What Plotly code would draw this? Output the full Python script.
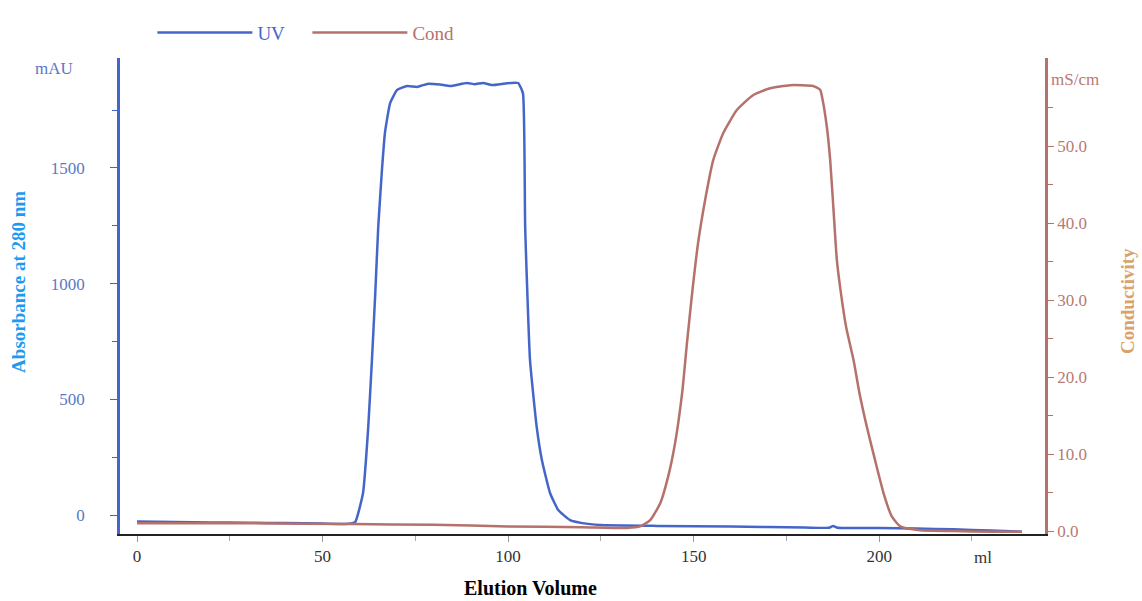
import plotly.graph_objects as go

# ---- data ----
uv_ml = [0, 10, 20, 30, 40, 50, 57, 58.8, 60.9, 62.3, 63.3, 64.2, 65.0, 66.0, 66.8, 68.2,
         70.1, 72.8, 75.5, 78.2, 81.7, 84.4, 88.9, 91.0, 93.3, 95.7, 99.7, 102.7, 104.0,
         104.6, 105.9, 107.7, 109.1, 111.3, 113.5, 116.7, 120.0, 124.8, 140, 160, 180,
         186.5, 187.6, 188.8, 200, 210, 220, 230, 238.5]
uv_mau = [-28, -30, -32, -33, -35, -37, -38, -30, 95, 380, 670, 959, 1245, 1491, 1651, 1780,
          1837, 1854, 1850, 1863, 1860, 1854, 1867, 1862, 1867, 1858, 1866, 1867, 1822,
          1246, 670, 381, 238, 95, 22, -22, -35, -43, -47, -50, -54,
          -55, -47, -55, -56, -58, -62, -67, -72]

cond_ml = [0, 30, 58, 80, 100, 120, 132, 135.6, 138.3, 141.0, 143.1, 145.0, 146.9, 148.2,
           149.6, 151.2, 153.1, 155.3, 158.0, 161.7, 166.0, 170.6, 176.0, 182.2, 184.1,
           184.6, 185.9, 186.8, 187.7, 188.6, 189.7, 191.1, 193.1, 194.7, 196.7, 198.9,
           201.2, 203.4, 205.7, 211, 220, 230, 238.5]
cond_ms = [1.0, 1.0, 0.9, 0.8, 0.6, 0.5, 0.4, 0.6, 1.4, 3.6, 7.0, 11.4, 17.9, 24.4,
           30.9, 37.4, 43.0, 48.2, 51.7, 54.7, 56.6, 57.5, 57.9, 57.8, 57.3,
           56.4, 52.5, 48.2, 41.7, 35.2, 30.9, 26.5, 22.2, 17.9, 13.5, 9.2,
           4.9, 1.9, 0.6, 0.1, 0.0, -0.1, -0.1]

x_ticks = [0, 50, 100, 150, 200]
uv_ticks = [0, 500, 1000, 1500]
cond_ticks = [0, 10, 20, 30, 40, 50]
cond_tick_labels = ["0.0", "10.0", "20.0", "30.0", "40.0", "50.0"]

UV_COLOR = "#4466c8"
COND_COLOR = "#b5716b"
SERIF = "Liberation Serif, Times New Roman, serif"

fig = go.Figure()
fig.add_trace(go.Scatter(x=cond_ml, y=cond_ms, yaxis="y2", mode="lines",
                         name="<span style='color:#b5716b'>Cond</span>",
                         line=dict(color=COND_COLOR, width=2.5, shape="spline",
                                   smoothing=0.5)))
fig.add_trace(go.Scatter(x=uv_ml, y=uv_mau, mode="lines",
                         name="<span style='color:#4466c8'>UV</span>",
                         line=dict(color=UV_COLOR, width=2.5, shape="spline",
                                   smoothing=0.4)))

fig.update_layout(
    width=1142, height=601,
    margin=dict(l=120, r=97, t=58, b=67, autoexpand=False),
    paper_bgcolor="white", plot_bgcolor="white",
    font=dict(family=SERIF, size=17),
    showlegend=True,
    legend=dict(orientation="h", x=0.035, y=1.053, xanchor="left", yanchor="middle",
                traceorder="reversed", itemwidth=95, entrywidth=45,
                font=dict(family=SERIF, size=19), bgcolor="rgba(0,0,0,0)"),
    xaxis=dict(range=[-4.6, 244.7], tickvals=x_ticks, ticks="outside", ticklen=6,
               tickcolor="#999999", showgrid=False, zeroline=False,
               showline=True, linecolor="#222222", linewidth=2,
               tickfont=dict(family=SERIF, size=17, color="#333333"),
               minor=dict(tickvals=[25, 75, 125, 175, 225], ticks="outside",
                          ticklen=5, tickcolor="#aaaaaa")),
    yaxis=dict(range=[-82, 1975], tickvals=uv_ticks, ticks="outside", ticklen=7,
               tickcolor=UV_COLOR, showgrid=False, zeroline=False,
               showline=True, linecolor=UV_COLOR, linewidth=2.5,
               ticklabelstandoff=22,
               tickfont=dict(family=SERIF, size=17, color="#5a78c8"),
               minor=dict(tickvals=[250, 750, 1250, 1750], ticks="outside",
                          ticklen=5, tickcolor=UV_COLOR)),
    yaxis2=dict(range=[-0.39, 61.43], overlaying="y", side="right",
                tickvals=cond_ticks, ticktext=cond_tick_labels,
                ticks="outside", ticklen=6, tickcolor=COND_COLOR,
                showgrid=False, zeroline=False,
                showline=True, linecolor=COND_COLOR, linewidth=2.5,
                tickfont=dict(family=SERIF, size=17, color="#b87a72"),
                minor=dict(tickvals=[5, 15, 25, 35, 45, 55], ticks="outside",
                           ticklen=5, tickcolor=COND_COLOR)),
)

fig.add_annotation(text="mAU", xref="paper", yref="paper", x=-0.071, y=0.977,
                   xanchor="center", yanchor="middle", showarrow=False,
                   font=dict(family=SERIF, size=17, color="#5a78c8"))
fig.add_annotation(text="mS/cm", xref="paper", yref="paper", x=1.004, y=0.955,
                   xanchor="left", yanchor="middle", showarrow=False,
                   font=dict(family=SERIF, size=17, color="#b87a72"))
fig.add_annotation(text="ml", xref="x", yref="paper", x=228, y=-0.05,
                   xanchor="center", yanchor="middle", showarrow=False,
                   font=dict(family=SERIF, size=17, color="#333333"))
fig.add_annotation(text="<b>Absorbance at 280 nm</b>", xref="paper", yref="paper",
                   x=-0.109, y=0.53, xanchor="center", yanchor="middle",
                   textangle=-90, showarrow=False,
                   font=dict(family=SERIF, size=19, color="#1a9bf0"))
fig.add_annotation(text="<b>Conductivity</b>", xref="paper", yref="paper",
                   x=1.09, y=0.49, xanchor="center", yanchor="middle",
                   textangle=-90, showarrow=False,
                   font=dict(family=SERIF, size=19, color="#d9a26a"))
fig.add_annotation(text="<b>Elution Volume</b>", xref="paper", yref="paper",
                   x=0.444, y=-0.113, xanchor="center", yanchor="middle",
                   showarrow=False,
                   font=dict(family=SERIF, size=20, color="#000000"))

fig.write_html("out.html")
